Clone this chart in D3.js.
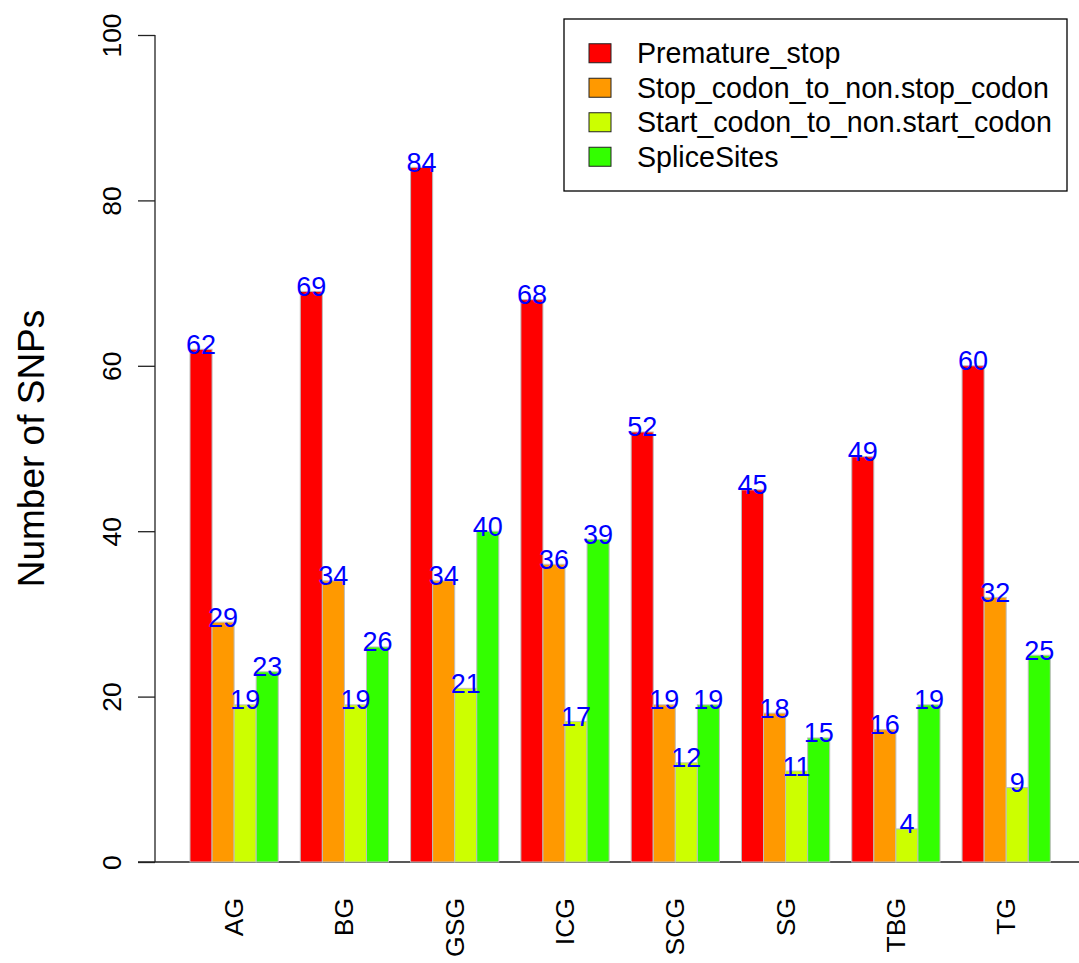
<!DOCTYPE html>
<html>
<head>
<meta charset="utf-8">
<script src="https://cdn.jsdelivr.net/npm/d3@7"></script>
<style>
  html, body { margin: 0; padding: 0; background: #fff; }
  svg { display: block; font-family: "Liberation Sans", Arial, sans-serif; }
</style>
</head>
<body>
<svg id="chart" width="1079" height="963"></svg>
<script>
const groups = ["AG", "BG", "GSG", "ICG", "SCG", "SG", "TBG", "TG"];
const seriesNames = ["Premature_stop", "Stop_codon_to_non.stop_codon", "Start_codon_to_non.start_codon", "SpliceSites"];
const seriesColors = ["#FF0000", "#FF9900", "#CCFF00", "#33FF00"];
const prematureStop = [62, 69, 84, 68, 52, 45, 49, 60];
const stopToNonStop = [29, 34, 34, 36, 19, 18, 16, 32];
const startToNonStart = [19, 19, 21, 17, 12, 11, 4, 9];
const spliceSites = [23, 26, 40, 39, 19, 15, 19, 25];
const yTicks = [0, 20, 40, 60, 80, 100];
const yTitle = "Number of SNPs";

const seriesValues = [prematureStop, stopToNonStop, startToNonStart, spliceSites];

const svg = d3.select("#chart");

const y = d3.scaleLinear().domain([0, 100]).range([862, 35]);
const x0 = d3.scaleBand().domain(groups).range([190, 1050.3]).paddingInner(0.2).paddingOuter(0);
const x1 = d3.scaleBand().domain(seriesNames).range([0, x0.bandwidth()]).padding(0);

// baseline
svg.append("line")
  .attr("x1", 138).attr("x2", 1079)
  .attr("y1", y(0)).attr("y2", y(0))
  .attr("stroke", "#222").attr("stroke-width", 1.3);

// bars
const gGroups = svg.append("g").selectAll("g")
  .data(groups)
  .join("g")
  .attr("transform", d => `translate(${x0(d)},0)`);

gGroups.selectAll("rect")
  .data((g, gi) => seriesNames.map((s, si) => ({ s, si, v: seriesValues[si][gi] })))
  .join("rect")
  .attr("x", d => x1(d.s))
  .attr("width", x1.bandwidth())
  .attr("y", d => y(d.v))
  .attr("height", d => y(0) - y(d.v))
  .attr("fill", d => seriesColors[d.si])
  .attr("stroke", "#bdbdbd")
  .attr("stroke-width", 1);

// value labels
gGroups.selectAll("text.val")
  .data((g, gi) => seriesNames.map((s, si) => ({ s, si, v: seriesValues[si][gi] })))
  .join("text")
  .attr("class", "val")
  .attr("x", d => x1(d.s) + x1.bandwidth() / 2)
  .attr("y", d => y(d.v) - 4.5)
  .attr("text-anchor", "middle")
  .attr("dominant-baseline", "central")
  .attr("fill", "#0000FF")
  .attr("font-size", 27)
  .text(d => d.v);

// y axis
const yAxis = d3.axisLeft(y).tickValues(yTicks).tickSize(17).tickPadding(0).tickFormat(d3.format("d"));
const ya = svg.append("g").attr("transform", "translate(155,0)").call(yAxis);
ya.select(".domain").attr("stroke", "#222").attr("stroke-width", 1.3)
  .attr("d", `M0,${y(0)}V${y(100)}`);
ya.selectAll(".tick line").attr("stroke", "#222").attr("stroke-width", 1.3);
ya.selectAll(".tick text")
  .attr("x", 0).attr("y", 0)
  .attr("transform", "translate(-51,0) rotate(-90)")
  .attr("text-anchor", "middle")
  .attr("dominant-baseline", "central")
  .attr("fill", "#000")
  .attr("font-size", 26.5)
  .attr("font-family", "Liberation Sans, Arial, sans-serif");

// x group labels
const xAxis = d3.axisBottom(x0).tickSize(0).tickPadding(0);
const xa = svg.append("g").attr("transform", `translate(0,${y(0)})`).call(xAxis);
xa.select(".domain").remove();
xa.selectAll(".tick text")
  .attr("x", 0).attr("y", 0).attr("dy", null)
  .attr("transform", "translate(0,36) rotate(-90)")
  .attr("text-anchor", "end")
  .attr("dominant-baseline", "central")
  .attr("fill", "#000")
  .attr("font-size", 26.5)
  .attr("font-family", "Liberation Sans, Arial, sans-serif");

// y title
svg.append("text")
  .attr("transform", `translate(31,${(y(0) + y(100)) / 2}) rotate(-90)`)
  .attr("text-anchor", "middle")
  .attr("dominant-baseline", "central")
  .attr("font-size", 37)
  .attr("fill", "#000")
  .text(yTitle);

// legend
const legend = svg.append("g");
legend.append("rect")
  .attr("x", 564).attr("y", 19).attr("width", 503).attr("height", 172)
  .attr("fill", "#fff").attr("stroke", "#000").attr("stroke-width", 1.3);
const rowY = d3.scaleBand().domain(seriesNames).range([36, 174]).padding(0);
const items = legend.selectAll("g.item").data(seriesNames).join("g").attr("class", "item")
  .attr("transform", d => `translate(0,${rowY(d) + rowY.bandwidth() / 2})`);
items.append("rect")
  .attr("x", 589).attr("y", -9.5).attr("width", 22).attr("height", 19)
  .attr("fill", (d, i) => seriesColors[i])
  .attr("stroke", "#222").attr("stroke-width", 1);
items.append("text")
  .attr("x", 637).attr("y", 0)
  .attr("dominant-baseline", "central")
  .attr("font-size", 28.6)
  .attr("fill", "#000")
  .text(d => d);
</script>
</body>
</html>
